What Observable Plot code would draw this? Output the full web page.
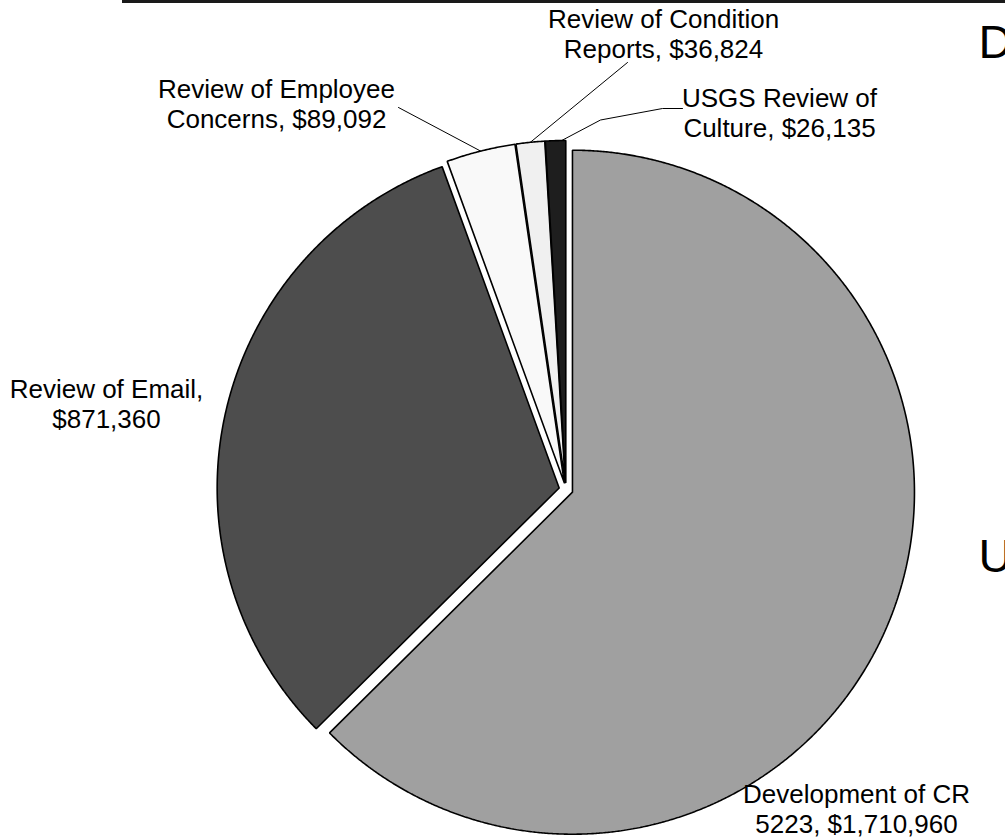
<!DOCTYPE html>
<html><head><meta charset="utf-8">
<script src="https://cdn.jsdelivr.net/npm/d3@7"></script>
<script src="https://cdn.jsdelivr.net/npm/@observablehq/plot@0.6"></script>
<style>
html,body{margin:0;padding:0;background:#fff;overflow:hidden;width:1005px;height:838px}
#chart{position:relative;width:1005px;height:838px}
#chart svg{position:absolute;left:0;top:0}
#topline{position:absolute;left:122px;top:0;width:883px;height:3px;background:#1a1a1a;z-index:2}
</style></head><body><div id="chart"><div id="topline"></div></div>
<script>
// ---- data ----
const categories = ["Development of CR 5223", "Review of Email", "Review of Employee Concerns", "Review of Condition Reports", "USGS Review of Culture"];
const values = [1710960, 871360, 89092, 36824, 26135];
const labelLines = [
  "Development of CR\n5223, $1,710,960",
  "Review of Email,\n$871,360",
  "Review of Employee\nConcerns, $89,092",
  "Review of Condition\nReports, $36,824",
  "USGS Review of\nCulture, $26,135"
];
const sliceColors = ["#a0a0a0", "#4d4d4d", "#f9f9f9", "#f0f0f0", "#1e1e1e"];
const legendVisible = ["Development of CR 5223", "USGS Review of Culture"];

// ---- layout (pixels) ----
const W = 1005, H = 838, CX = 565.5, CY = 489, R = 342, EXPLODE = 7;
const toX = px => (px - CX) / R, toY = py => (py - CY) / R;
const labelPos = [[856, 808], [106, 403], [276, 103], [663, 33], [779, 112]];
const leaders = [
  {i: 2, f: 0.5, pts: [[398, 107]]},
  {i: 3, f: 0.5, pts: [[627, 62]]},
  {i: 4, f: 0.8, pts: [[600, 119.5], [662, 108], [682, 108]]}
];
const legendPos = [[978, 57], [978, 571]];

// ---- build geometry from data ----
const rows = categories.map((c, i) => ({name: c, value: values[i], color: sliceColors[i], label: labelLines[i]}));
const arcs = d3.pie().sort(null).value(d => d.value)(rows);
const e = EXPLODE / R;
const polyPts = [];
arcs.forEach(a => {
  const mid = (a.startAngle + a.endAngle) / 2;
  const ox = e * Math.sin(mid), oy = -e * Math.cos(mid);
  a.ox = ox; a.oy = oy;
  const n = Math.max(2, Math.ceil((a.endAngle - a.startAngle) / (Math.PI / 720)));
  polyPts.push({name: a.data.name, color: a.data.color, x: ox, y: oy});
  for (let k = 0; k <= n; k++) {
    const t = a.startAngle + (a.endAngle - a.startAngle) * k / n;
    polyPts.push({name: a.data.name, color: a.data.color, x: ox + Math.sin(t), y: oy - Math.cos(t)});
  }
  polyPts.push({name: a.data.name, color: a.data.color, x: ox, y: oy});
});

const leaderPts = [];
leaders.forEach(L => {
  const a = arcs[L.i];
  const t = a.startAngle + (a.endAngle - a.startAngle) * L.f;
  leaderPts.push({id: L.i, x: a.ox + Math.sin(t), y: a.oy - Math.cos(t)});
  L.pts.forEach(p => leaderPts.push({id: L.i, x: toX(p[0]), y: toY(p[1])}));
});

const labels = rows.map((r, i) => ({text: r.label, x: toX(labelPos[i][0]), y: toY(labelPos[i][1])}));
const legend = legendVisible.map((t, i) => ({text: t, x: toX(legendPos[i][0]), y: toY(legendPos[i][1])}));

const chart = Plot.plot({
  width: W, height: H, margin: 0,
  x: {domain: [toX(0), toX(W)], range: [0, W], axis: null},
  y: {domain: [toY(0), toY(H)], range: [0, H], axis: null},
  style: {fontFamily: "'Liberation Sans', Arial, sans-serif", background: "transparent", color: "#000"},
  marks: [
    Plot.line(polyPts, {x: "x", y: "y", z: "name", fill: "color", stroke: "#000", strokeWidth: 1.6, strokeLinejoin: "miter", curve: "linear"}),
    Plot.line(leaderPts, {x: "x", y: "y", z: "id", stroke: "#000", strokeWidth: 1, curve: "linear"}),
    Plot.text(labels, {x: "x", y: "y", text: "text", fontSize: 26, lineHeight: 1.15, fill: "#000", textAnchor: "middle", lineAnchor: "middle"}),
    Plot.text(legend, {x: "x", y: "y", text: "text", fontSize: 47, fill: "#000", textAnchor: "start", lineAnchor: "bottom"})
  ]
});
document.getElementById("chart").appendChild(chart);
</script>
</body></html>
